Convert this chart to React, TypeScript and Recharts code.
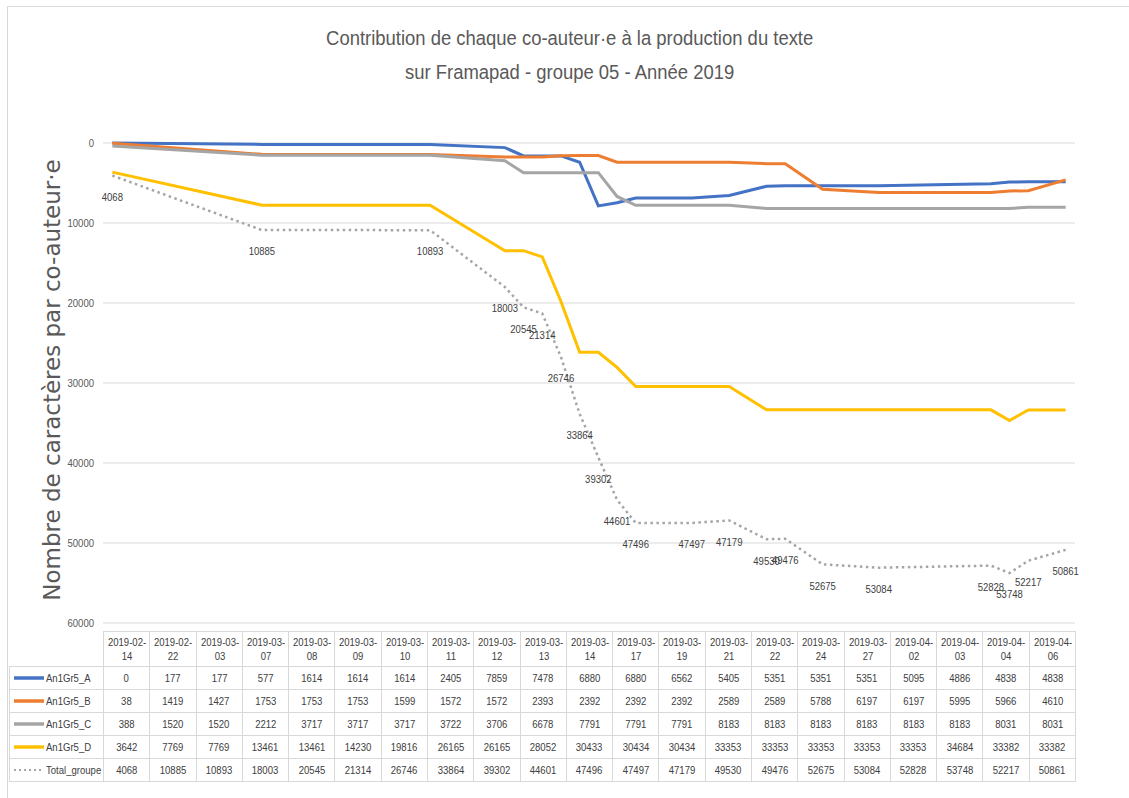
import { LineChart, Line, XAxis, YAxis, CartesianGrid, LabelList } from 'recharts';

// Dates de relevé (colonnes du tableau)
const dates = [
  '2019-02-14', '2019-02-22', '2019-03-03', '2019-03-07', '2019-03-08', '2019-03-09', '2019-03-10',
  '2019-03-11', '2019-03-12', '2019-03-13', '2019-03-14', '2019-03-17', '2019-03-19', '2019-03-21',
  '2019-03-22', '2019-03-24', '2019-03-27', '2019-04-02', '2019-04-03', '2019-04-04', '2019-04-06',
];

const serieA = [0, 177, 177, 577, 1614, 1614, 1614, 2405, 7859, 7478, 6880, 6880, 6562, 5405, 5351, 5351, 5351, 5095, 4886, 4838, 4838];
const serieB = [38, 1419, 1427, 1753, 1753, 1753, 1599, 1572, 1572, 2393, 2392, 2392, 2392, 2589, 2589, 5788, 6197, 6197, 5995, 5966, 4610];
const serieC = [388, 1520, 1520, 2212, 3717, 3717, 3717, 3722, 3706, 6678, 7791, 7791, 7791, 8183, 8183, 8183, 8183, 8183, 8183, 8031, 8031];
const serieD = [3642, 7769, 7769, 13461, 13461, 14230, 19816, 26165, 26165, 28052, 30433, 30434, 30434, 33353, 33353, 33353, 33353, 33353, 34684, 33382, 33382];
const totalGroupe = [4068, 10885, 10893, 18003, 20545, 21314, 26746, 33864, 39302, 44601, 47496, 47497, 47179, 49530, 49476, 52675, 53084, 52828, 53748, 52217, 50861];

const yTicks = [0, 10000, 20000, 30000, 40000, 50000, 60000];

const FONT = "'Liberation Sans', Arial, sans-serif";
const SQUEEZE = 0.83; // pas de police étroite installée : on compresse à l'horizontale
const TEXT_COLOR = '#595959';

const series = [
  { key: 'a', name: 'An1Gr5_A', color: '#4472C4', values: serieA, dotted: false },
  { key: 'b', name: 'An1Gr5_B', color: '#ED7D31', values: serieB, dotted: false },
  { key: 'c', name: 'An1Gr5_C', color: '#A5A5A5', values: serieC, dotted: false },
  { key: 'd', name: 'An1Gr5_D', color: '#FFC000', values: serieD, dotted: false },
  { key: 'total', name: 'Total_groupe', color: '#A5A5A5', values: totalGroupe, dotted: true },
];

// axe chronologique : nombre de jours depuis la première date
const dayOf = (d: string) => {
  const [y, m, j] = d.split('-').map(Number);
  return (Date.UTC(y, m - 1, j) - Date.UTC(2019, 1, 14)) / 86400000;
};

const chartData = dates.map((d, i) => ({
  day: dayOf(d),
  a: serieA[i],
  b: serieB[i],
  c: serieC[i],
  d: serieD[i],
  total: totalGroupe[i],
}));

const Sq = ({ children, origin = 'center', k = SQUEEZE }: any) => (
  <span style={{ display: 'inline-block', whiteSpace: 'nowrap', transform: `scaleX(${k})`, transformOrigin: origin }}>
    {children}
  </span>
);

const YTick = (props: any) => {
  const { x, y, payload } = props;
  return (
    <text transform={`translate(${x},${y}) scale(${SQUEEZE},1)`} textAnchor="end" dominantBaseline="central"
      fontFamily={FONT} fontSize={11.5} fill={TEXT_COLOR}>
      {payload.value}
    </text>
  );
};

const TotalLabel = (props: any) => {
  const { x, y, value } = props;
  return (
    <text transform={`translate(${x},${y + 21}) scale(${SQUEEZE},1)`} textAnchor="middle" dominantBaseline="central"
      fontFamily={FONT} fontSize={11.5} fill="#404040">
      {value}
    </text>
  );
};

const LegendKey = ({ color, dotted }: { color: string; dotted: boolean }) => (
  <svg width={34} height={6} style={{ verticalAlign: 'middle' }}>
    <line x1={2} y1={3} x2={32} y2={3} stroke={color} strokeWidth={dotted ? 2 : 3.5}
      strokeDasharray={dotted ? '2 3' : undefined} />
  </svg>
);

export default function App() {
  const cell: React.CSSProperties = {
    border: '1px solid #d9d9d9',
    textAlign: 'center',
    padding: 0,
    height: 22,
    whiteSpace: 'nowrap',
  };

  return (
    <div style={{ position: 'absolute', left: 0, top: 0, width: 1129, height: 798, overflow: 'hidden', background: '#fff' }}>
      {/* cadre du graphique */}
      <div style={{ position: 'absolute', left: 7, top: 6, width: 1140, height: 820, border: '1px solid #d9d9d9' }} />

      <div style={{ position: 'absolute', left: 5, top: 21, width: 1129, textAlign: 'center', fontFamily: FONT, fontSize: 20.5, lineHeight: '34px', color: TEXT_COLOR }}>
        <Sq k={0.9}>
          Contribution de chaque co-auteur·e à la production du texte<br />
          sur Framapad - groupe 05 - Année 2019
        </Sq>
      </div>

      <div style={{ position: 'absolute', left: 52, top: 380, transform: 'translate(-50%, -50%) rotate(-90deg)', whiteSpace: 'nowrap', fontFamily: "'DejaVu Sans', sans-serif", fontSize: 23, color: TEXT_COLOR }}>
        Nombre de caractères par co-auteur·e
      </div>

      <div style={{ position: 'absolute', left: 0, top: 0 }}>
        <LineChart width={1129} height={640} data={chartData} margin={{ top: 143, right: 54, bottom: 17, left: 43 }}>
          <CartesianGrid vertical={false} stroke="#d9d9d9" />
          <XAxis dataKey="day" type="number" domain={[-0.5, 51.5]} hide />
          <YAxis reversed domain={[0, 60000]} ticks={yTicks} width={60} axisLine={false} tickLine={false}
            tickMargin={3} tick={<YTick />} />
          {series.map((s) => (
            <Line key={s.key} dataKey={s.key} type="linear" stroke={s.color}
              strokeWidth={s.dotted ? 2.5 : 3} strokeDasharray={s.dotted ? '2.5 3.5' : undefined}
              dot={false} activeDot={false} isAnimationActive={false}>
              {s.dotted && <LabelList dataKey="total" content={<TotalLabel />} />}
            </Line>
          ))}
        </LineChart>
      </div>

      <table style={{ position: 'absolute', left: 9, top: 631, width: 1067, borderCollapse: 'collapse', tableLayout: 'fixed', fontFamily: FONT, fontSize: 11.5, color: '#404040' }}>
        <colgroup>
          <col style={{ width: 94 }} />
          {dates.map((d) => <col key={d} />)}
        </colgroup>
        <tbody>
          <tr>
            <td style={{ ...cell, border: 'none', borderBottom: '1px solid #d9d9d9', borderRight: '1px solid #d9d9d9' }} />
            {dates.map((d) => (
              <td key={d} style={{ ...cell, height: 34, lineHeight: '14px' }}>
                <Sq>{d.slice(0, 8)}<br />{d.slice(8)}</Sq>
              </td>
            ))}
          </tr>
          {series.map((s) => (
            <tr key={s.key}>
              <td style={{ ...cell, textAlign: 'left', paddingLeft: 2 }}>
                <LegendKey color={s.color} dotted={s.dotted} />
                <span style={{ verticalAlign: 'middle' }}><Sq origin="left">{s.name}</Sq></span>
              </td>
              {s.values.map((v, i) => (
                <td key={i} style={cell}><Sq>{v}</Sq></td>
              ))}
            </tr>
          ))}
        </tbody>
      </table>
    </div>
  );
}
